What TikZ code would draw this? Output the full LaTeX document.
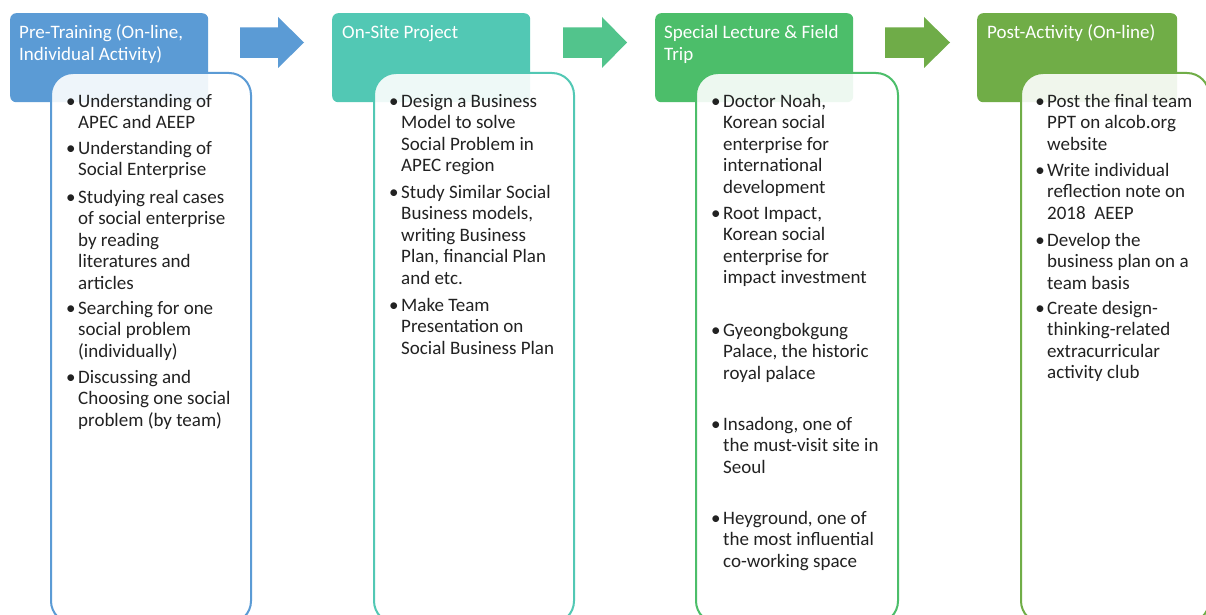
\documentclass[tikz,border=0pt]{standalone}
\usepackage{fontspec}
\setmainfont{Carlito}
\definecolor{cA}{HTML}{5B9BD5}
\definecolor{cB}{HTML}{52C8B4}
\definecolor{cC}{HTML}{4CBE6A}
\definecolor{cD}{HTML}{70AD47}
\definecolor{aB}{HTML}{52C48C}
\definecolor{aC}{HTML}{6FAC48}
\definecolor{txt}{HTML}{222222}
\newcommand\bul[1]{\begin{tabular}[t]{@{}l@{}}\llap{\textbullet\hspace{2.5pt}}#1\end{tabular}}
\newcommand\hl[1]{\begin{tabular}[t]{@{}l@{}}#1\end{tabular}}
\begin{document}
\begin{tikzpicture}[x=1pt,y=-1pt,
  every node/.style={font=\fontsize{19}{21.6}\selectfont},
  hdr/.style={rectangle, rounded corners=6pt, minimum width=198pt, minimum height=89pt, anchor=north west, inner sep=0pt},
  card/.style={rectangle, rounded corners=22pt, minimum width=200pt, minimum height=550pt, anchor=north west, inner sep=0pt, line width=2pt, fill=white, fill opacity=0.9},
  htext/.style={anchor=base west, inner sep=0pt, text=white},
  item/.style={anchor=base west, inner sep=0pt, text=txt}]
\useasboundingbox (0,0) rectangle (1206,615);
\fill[white] (0,0) rectangle (1206,615);
\clip (0,0) rectangle (1206,615);
% headers
\node[hdr, fill=cA] (h1) at (10,13) {};
\node[hdr, fill=cB] (h2) at (332,13) {};
\node[hdr, fill=cC] (h3) at (655,13) {};
\node[hdr, fill=cD, minimum width=200pt] (h4) at (977,13) {};
% arrows
\fill[cA] (240,27.5) -- (278,27.5) -- (278,17) -- (304,42.5) -- (278,68) -- (278,58) -- (240,58) -- cycle;
\fill[aB] (563,27.5) -- (602,27.5) -- (602,17) -- (627,42.5) -- (602,68) -- (602,58) -- (563,58) -- cycle;
\fill[aC] (885,27.5) -- (924,27.5) -- (924,17) -- (950,42.5) -- (924,68) -- (924,58) -- (885,58) -- cycle;
% cards
\node[card, draw=cA] (w1) at (50,72) {};
\node[card, draw=cB] (w2) at (373,72) {};
\node[card, draw=cC, minimum width=202pt] (w3) at (695,72) {};
\node[card, draw=cD, minimum width=188pt] (w4) at (1020,72) {};
% header texts
\node[htext] (t1) at (19,39) {\hl{Pre-Training (On-line,\\Individual Activity)}};
\node[htext] (t2) at (342,39) {\hl{On-Site Project}};
\node[htext] (t3) at (664,39) {\hl{Special Lecture \& Field\\Trip}};
\node[htext] (t4) at (987,39) {\hl{Post-Activity (On-line)}};
% box 1
\node[item] (a1) at (78,107) {\bul{Understanding of\\APEC and AEEP}};
\node[item] (a2) at (78,154) {\bul{Understanding of\\Social Enterprise}};
\node[item] (a3) at (78,203) {\bul{Studying real cases\\of social enterprise\\by reading\\literatures and\\articles}};
\node[item] (a4) at (78,314) {\bul{Searching for one\\social problem\\(individually)}};
\node[item] (a5) at (78,383) {\bul{Discussing and\\Choosing one social\\problem (by team)}};
% box 2
\node[item] (b1) at (401,107) {\bul{Design a Business\\Model to solve\\Social Problem in\\APEC region}};
\node[item] (b2) at (401,198) {\bul{Study Similar Social\\Business models,\\writing Business\\Plan, financial Plan\\and etc.}};
\node[item] (b3) at (401,311) {\bul{Make Team\\Presentation on\\Social Business Plan}};
% box 3
\node[item] (c1) at (723,107) {\bul{Doctor Noah,\\Korean social\\enterprise for\\international\\development}};
\node[item] (c2) at (723,219) {\bul{Root Impact,\\Korean social\\enterprise for\\impact investment}};
\node[item] (c3) at (723,336) {\bul{Gyeongbokgung\\Palace, the historic\\royal palace}};
\node[item] (c4) at (723,430) {\bul{Insadong, one of\\the must-visit site in\\Seoul}};
\node[item] (c5) at (723,524) {\bul{Heyground, one of\\the most influential\\co-working space}};
% box 4
\node[item] (d1) at (1047,107) {\bul{Post the final team\\PPT on alcob.org\\website}};
\node[item] (d2) at (1047,176) {\bul{Write individual\\reflection note on\\2018~~AEEP}};
\node[item] (d3) at (1047,246) {\bul{Develop the\\business plan on a\\team basis}};
\node[item] (d4) at (1047,314) {\bul{Create design-\\thinking-related\\extracurricular\\activity club}};
\end{tikzpicture}
\end{document}
